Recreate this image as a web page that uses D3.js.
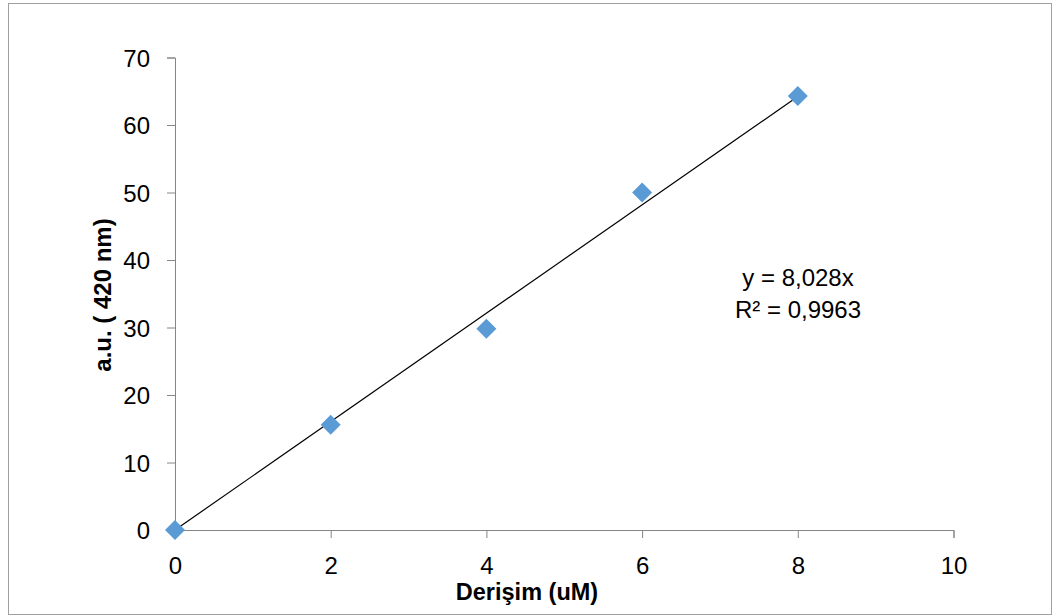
<!DOCTYPE html>
<html>
<head>
<meta charset="utf-8">
<script src="https://cdn.jsdelivr.net/npm/d3@7"></script>
<style>
body { margin: 0; background: #fff; }
svg text { font-family: "Liberation Sans", Arial, sans-serif; fill: #000; }
</style>
</head>
<body>
<div id="chart"></div>
<script>
var concentrations = [0, 2, 4, 6, 8];
var absorbance = [0, 15.6, 29.8, 50.0, 64.3];
var xTicks = [0, 2, 4, 6, 8, 10];
var yTicks = [0, 10, 20, 30, 40, 50, 60, 70];
var slope = 8.028;
var equationLines = ["y = 8,028x", "R² = 0,9963"];

var width = 1053, height = 616;
var svg = d3.select("#chart").append("svg").attr("width", width).attr("height", height);

// chart frame
svg.append("rect").attr("x", 8.5).attr("y", 3.5).attr("width", 1043).attr("height", 611)
	.attr("fill", "white").attr("stroke", "#a0a0a0").attr("stroke-width", 1);

var x = d3.scaleLinear().domain([0, 10]).range([175, 953.5]);
var y = d3.scaleLinear().domain([0, 70]).range([530, 57.5]);

var xAxis = svg.append("g").attr("transform", "translate(0,530)")
	.call(d3.axisBottom(x).tickValues(xTicks).tickSize(8).tickSizeOuter(8).tickPadding(19).tickFormat(d3.format("d")));
var yAxis = svg.append("g").attr("transform", "translate(175,0)")
	.call(d3.axisLeft(y).tickValues(yTicks).tickSize(8).tickSizeOuter(8).tickPadding(17).tickFormat(d3.format("d")));

[xAxis, yAxis].forEach(function(g){
	g.select(".domain").attr("stroke", "#868686");
	g.selectAll(".tick line").attr("stroke", "#868686");
	g.selectAll(".tick text").attr("font-size", "24px").attr("font-family", "Liberation Sans, Arial, sans-serif").attr("fill", "#000");
});
xAxis.selectAll(".tick text").attr("dy", "0.71em");
yAxis.selectAll(".tick text").attr("dy", "0.36em");

// trendline
svg.append("line")
	.attr("x1", x(0)).attr("y1", y(0))
	.attr("x2", x(8)).attr("y2", y(slope * 8))
	.attr("stroke", "#000").attr("stroke-width", 1.2);

// markers
var pts = concentrations.map(function(c, i){ return [c, absorbance[i]]; });
svg.selectAll("path.pt").data(pts).enter().append("path")
	.attr("class", "pt")
	.attr("d", d3.symbol().type(d3.symbolSquare).size(200))
	.attr("transform", function(d){ return "translate(" + x(d[0]) + "," + y(d[1]) + ") rotate(45)"; })
	.attr("fill", "#5b9bd5");

// equation
svg.selectAll("text.eq").data(equationLines).enter().append("text")
	.attr("class", "eq")
	.attr("x", 798).attr("y", function(d, i){ return 286 + i * 32; })
	.attr("text-anchor", "middle").attr("font-size", "24px")
	.text(function(d){ return d; });

// axis titles
svg.append("text").attr("x", 527).attr("y", 600).attr("text-anchor", "middle")
	.attr("font-size", "23.5px").attr("font-weight", "bold").text("Derişim (uM)");
svg.append("text").attr("transform", "translate(111,295) rotate(-90)").attr("text-anchor", "middle")
	.attr("font-size", "24px").attr("font-weight", "bold").text("a.u. ( 420 nm)");
</script>
</body>
</html>
